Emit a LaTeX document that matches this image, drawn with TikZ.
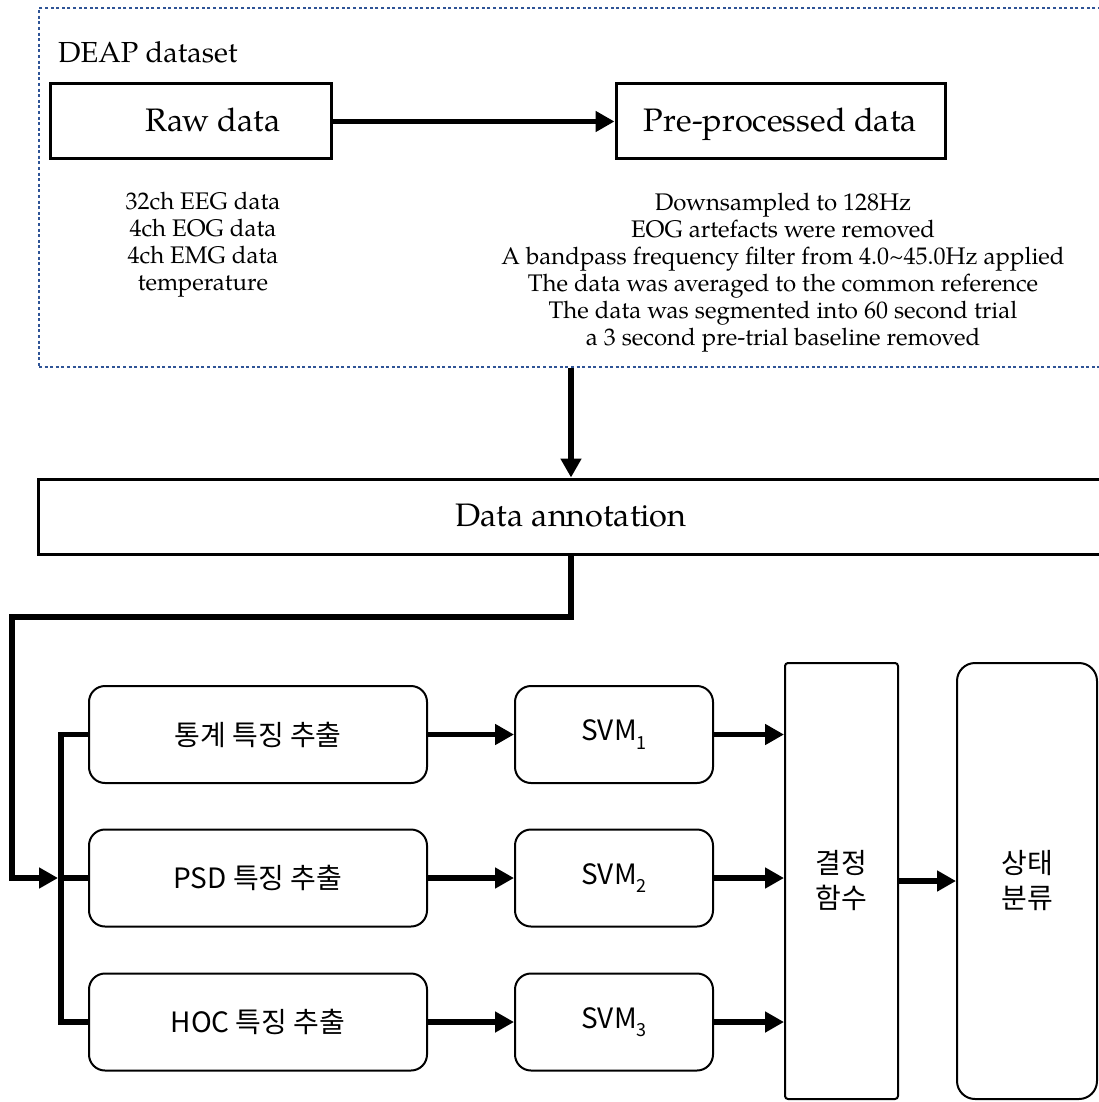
\documentclass[tikz,border=0pt]{standalone}
\usepackage{fontspec}
\setmainfont{TeX Gyre Pagella}
\newfontfamily\kr{Noto Sans CJK KR}
\usetikzlibrary{arrows.meta}
\definecolor{framecol}{RGB}{47,84,150}
\newcommand\svmsub[1]{\raisebox{-0.3em}{\fontsize{18}{18}\selectfont#1}}
\tikzset{
  conn/.style={line width=5.5pt},
  arr/.style={conn,-{Triangle[length=19pt,width=20pt]}},
  frame/.style={draw=framecol,line width=2.6pt,dash pattern=on 3pt off 2.6pt,inner sep=0pt},
  bigbox/.style={draw,line width=3pt,minimum height=75pt,inner sep=0pt,
    text height=22.4pt,text depth=2pt,font=\fontsize{32.5}{38}\selectfont},
  infolist/.style={align=center,inner sep=0pt,font=\fontsize{24}{27}\selectfont},
  featbox/.style={draw,line width=2pt,rounded corners=16pt,minimum height=97pt,
    inner sep=0pt,font=\kr\fontsize{28}{32}\selectfont},
  decbox/.style={draw,line width=2pt,rounded corners=3pt,inner sep=0pt,align=center,
    font=\kr\fontsize{28}{35}\selectfont},
  statebox/.style={decbox,rounded corners=18pt},
}
\begin{document}
\begin{tikzpicture}[x=1pt,y=-1pt]
\useasboundingbox (0,0) rectangle (1099,1102);
\clip (0,0) rectangle (1099,1102);

% dataset frame and its contents
\node[frame,minimum width=1071pt,minimum height=359pt] (deap) at (574.5,187.5) {};
\node[anchor=base west,inner sep=0pt,font=\fontsize{29}{34}\selectfont] (deaplabel) at (58,63) {DEAP dataset};
\node[bigbox,minimum width=281pt] (raw) at (190.5,121.5) {\hspace*{45pt}Raw data};
\node[bigbox,minimum width=329pt] (pre) at (780.5,121.5) {Pre-processed data};
\node[infolist] (rawinfo) at (203,245) {32ch EEG data\\4ch EOG data\\4ch EMG data\\temperature};
\node[infolist] (preinfo) at (783,272.5) {Downsampled to 128Hz\\EOG artefacts were removed\\
  A bandpass frequency filter from 4.0\textasciitilde45.0Hz applied\\
  The data was averaged to the common reference\\
  The data was segmented into 60 second trial\\
  a 3 second pre-trial baseline removed};
\draw[arr] (raw) -- (pre);

% annotation
\node[bigbox,minimum width=1066pt] (annot) at (571,516.5) {Data annotation};
\draw[arr] (deap.south -| annot.north) -- (annot.north);

% feature extraction, classifiers, fusion
\node[featbox,minimum width=338pt] (f1) at (258,734.5) {통계 특징 추출};
\node[featbox,minimum width=338pt] (f2) at (258,878) {PSD 특징 추출};
\node[featbox,minimum width=338pt] (f3) at (258,1022) {HOC 특징 추출};
\node[featbox,minimum width=198pt] (s1) at (614,734.5) {SVM\svmsub{1}};
\node[featbox,minimum width=198pt] (s2) at (614,878) {SVM\svmsub{2}};
\node[featbox,minimum width=198pt] (s3) at (614,1022) {SVM\svmsub{3}};
\node[decbox,minimum width=113pt,minimum height=436pt] (dec) at (841.5,881) {결정\\함수};
\node[statebox,minimum width=140pt,minimum height=436pt] (state) at (1027,881) {상태\\분류};

% routing from the annotation to the feature bus
\coordinate (bus) at (61,0);
\coordinate (bend) at (12,617);
\coordinate (busin) at (58,878);
\draw[arr] (annot.south) |- (bend) |- (busin);
\draw[conn] (f1.west) -| (bus |- f3.west) -- (f3.west);
\draw[conn] (bus |- f2.west) -- (f2.west);

\foreach \i in {1,2,3}{
  \draw[arr] (f\i) -- (s\i);
  \draw[arr] (s\i.east) -- (s\i.east -| dec.west);
}
\draw[arr] (dec) -- (state);
\end{tikzpicture}
\end{document}
